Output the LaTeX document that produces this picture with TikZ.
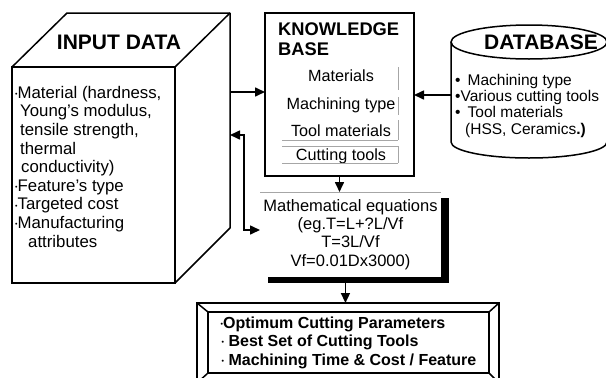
\documentclass[tikz,border=0pt]{standalone}
\usepackage{fontspec}
\setmainfont{Liberation Sans}
\usetikzlibrary{arrows.meta,shadows}

\newcommand\titlefont{\fontsize{21}{23}\selectfont\bfseries}
\newcommand\kbfont{\fontsize{18.3}{20}\selectfont\bfseries}
\newcommand\itemfont{\fontsize{16.8}{18.6}\selectfont}
\newcommand\kbitemfont{\fontsize{16.2}{18}\selectfont}
\newcommand\mathfont{\fontsize{16.5}{18.3}\selectfont}
\newcommand\dbfont{\fontsize{15.5}{16.2}\selectfont}
\newcommand\outfont{\fontsize{16}{18.5}\selectfont\bfseries}
\newcommand\tinybul{{\fontsize{7}{7}\selectfont\raisebox{0.5ex}{\textbullet}}}

\begin{document}
\begin{tikzpicture}[x=1pt, y=-1pt,
  arr/.style={-{Triangle[length=10pt,width=9pt]}, line width=1.6pt},
  dblarr/.style={{Triangle[length=10pt,width=9pt]}-{Triangle[length=10pt,width=9pt]}, line width=1.6pt},
  box/.style={line width=1.5pt},
  kbitem/.style={font=\kbitemfont, anchor=base},
  textblock/.style={align=left, anchor=north west, inner sep=0pt}]
  \useasboundingbox (0,0) rectangle (606,378);
  \clip (0,0) rectangle (606,378);
  % input data cube
  \node[draw, box, anchor=north west, minimum width=163pt, minimum height=216pt, outer sep=0pt] (input) at (12,67) {};
  \draw[box, line join=round] (input.north west) -- (67,13) -- (230,13) -- (230,228) -- (input.south east);
  \draw[box] (input.north east) -- (230,13);
  \node[font=\titlefont] (inputtitle) at (119,42) {INPUT DATA};
  \node[font=\itemfont, textblock] (inputtext) at (15,86) {\tinybul Material (hardness,\\
    \hspace*{5pt}Young's modulus,\\
    \hspace*{5pt}tensile strength,\\
    \hspace*{5pt}thermal\\
    \hspace*{6pt}conductivity)\\
    \tinybul Feature's type\\
    \tinybul Targeted cost\\
    \tinybul Manufacturing\\
    \hspace*{13pt}attributes};
  % knowledge base
  \node[draw, line width=2.5pt, anchor=north west, minimum width=149pt, minimum height=163pt, outer sep=0pt] (kb) at (265,13) {};
  \node[font=\kbfont, textblock] (kbtitle) at (278,23) {KNOWLEDGE\\BASE};
  \node[kbitem] (kbmat) at (341,81) {Materials};
  \node[kbitem] (kbmach) at (341,109) {Machining type};
  \node[kbitem] (kbtool) at (341,136) {Tool materials};
  \node[kbitem] (kbcut) at (341,160) {Cutting tools};
  \foreach \a/\b in {67/90, 97/115, 120/140, 146/163}
    \draw[gray!70] (398,\a) -- (398,\b);
  \foreach \y in {140,146,163}
    \draw[gray!70] (282,\y) -- (398,\y);
  % database cylinder
  \draw[box] (451,42) -- (451,142) arc[start angle=180, end angle=0, x radius=78, y radius=16] -- (607,42);
  \draw[box, fill=white] (529,42) ellipse[x radius=78, y radius=17];
  \node[font=\titlefont] (dbtitle) at (541,42) {DATABASE};
  \node[font=\dbfont, textblock] (dbtext) at (455,74) {\textbullet\hspace{7pt}Machining type\\
    \textbullet Various cutting tools\\
    \textbullet\hspace{7pt}Tool materials\\
    \hspace*{10pt}(HSS, Ceramics\textbf{.)}};
  % mathematical equations
  \node[fill=white, drop shadow={shadow xshift=8pt, shadow yshift=-6pt, fill=black, opacity=1},
    anchor=north west, minimum width=180pt, minimum height=85pt, outer sep=0pt,
    font=\mathfont, align=center] (math) at (260,192)
    {Mathematical equations\\(eg.T=L+?L/Vf\\T=3L/Vf\\Vf=0.01Dx3000)};
  \draw[gray!70] (math.north west) -- (math.north east);
  % output
  \node[draw, box, anchor=north west, minimum width=302pt, minimum height=80pt, outer sep=0pt] (outframe) at (197,303) {};
  \node[draw, box, anchor=north west, minimum width=281pt, minimum height=61pt, outer sep=0pt,
    font=\outfont, align=left] (out) at (208,312)
    {\tinybul Optimum Cutting Parameters\\
     \hspace*{1pt}\tinybul\ Best Set of Cutting Tools\\
     \hspace*{1pt}\tinybul\ Machining Time \& Cost / Feature};
  \foreach \c in {north west, north east, south west, south east}
    \draw[box] (outframe.\c) -- (out.\c);
  % connectors
  \coordinate (cubeR) at (230,92);
  \coordinate (cubeM) at (230,135);
  \coordinate (dbW) at (451,95);
  \draw[arr] (cubeR) -- (cubeR -| kb.west);
  \draw[arr] (dbW) -- (dbW -| kb.east);
  \draw[arr] (kb.south) -- (kb.south |- math.north);
  \draw[arr] ([xshift=-5pt,yshift=-6pt]math.south) -- ([xshift=-5pt]math.south |- outframe.north);
  \draw[dblarr] (cubeM) -- (244,135) |- ([yshift=4.5pt]math.west);
\end{tikzpicture}
\end{document}
